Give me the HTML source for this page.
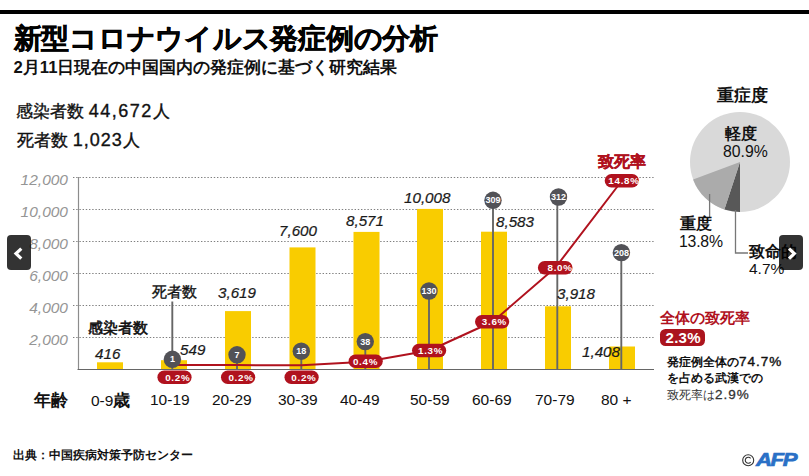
<!DOCTYPE html>
<html><head><meta charset="utf-8">
<style>
html,body{margin:0;padding:0;background:#fff;}
body{width:809px;height:476px;position:relative;overflow:hidden;font-family:"Liberation Sans",sans-serif;color:#111;}
.t{position:absolute;white-space:nowrap;line-height:1;}
.b{font-weight:bold;}
.yl{position:absolute;right:741px;font-style:italic;color:#959595;font-size:15.5px;line-height:1;white-space:nowrap;}
.v{position:absolute;font-style:italic;color:#1a1a1a;-webkit-text-stroke:0.2px #1a1a1a;font-size:15.2px;line-height:1;white-space:nowrap;}
.xl{position:absolute;font-size:15.5px;line-height:1;color:#111;white-space:nowrap;}
.nav{position:absolute;width:24px;height:35px;background:rgba(0,0,0,0.8);border-radius:4px;}
.n{font-size:18px;}
</style></head><body>
<div style="position:absolute;left:0;top:10px;width:809px;height:4px;background:#000"></div>
<div class="t b" style="left:13.5px;top:25px;font-size:27.6px;letter-spacing:-0.25px;-webkit-text-stroke:0.5px #000">新型コロナウイルス発症例の分析</div>
<div class="t b" style="left:13.5px;top:60px;font-size:16.7px;">2月11日現在の中国国内の発症例に基づく研究結果</div>
<div class="t" style="left:16px;top:102px;font-size:17px;-webkit-text-stroke:0.35px #111">感染者数 <span class="n" style="letter-spacing:1.5px">44,672</span>人</div>
<div class="t" style="left:17px;top:131px;font-size:17px;-webkit-text-stroke:0.35px #111">死者数 <span class="n" style="letter-spacing:1px">1,023</span>人</div>

<svg width="809" height="476" style="position:absolute;left:0;top:0">
 <g stroke="#808080" stroke-width="1.2" stroke-dasharray="1.4 1.8">
  <line x1="73" y1="177.5" x2="655" y2="177.5"/>
  <line x1="73" y1="209.5" x2="655" y2="209.5"/>
  <line x1="73" y1="241.5" x2="655" y2="241.5"/>
  <line x1="73" y1="273.5" x2="655" y2="273.5"/>
  <line x1="73" y1="305.5" x2="655" y2="305.5"/>
  <line x1="73" y1="337.5" x2="655" y2="337.5"/>
 </g>
 <g fill="#f9cc00">
  <rect x="97" y="362.3" width="26" height="6.7"/>
  <rect x="161" y="360.2" width="26" height="8.8"/>
  <rect x="225" y="311.1" width="26" height="57.9"/>
  <rect x="289.5" y="247.4" width="26" height="121.6"/>
  <rect x="353.5" y="231.9" width="26" height="137.1"/>
  <rect x="417" y="208.9" width="26" height="160.1"/>
  <rect x="481" y="231.7" width="26" height="137.3"/>
  <rect x="545" y="306.3" width="26" height="62.7"/>
  <rect x="609" y="346.5" width="26" height="22.5"/>
 </g>
 <line x1="78.5" y1="177" x2="78.5" y2="369" stroke="#8c8c8c" stroke-width="1.2"/>
 <line x1="77.5" y1="369.5" x2="654" y2="369.5" stroke="#666" stroke-width="1.2"/>
 <g stroke="#666" stroke-width="1.9">
  <line x1="172.3" y1="301.5" x2="172.3" y2="369"/>
  <line x1="237" y1="355" x2="237" y2="369"/>
  <line x1="301.3" y1="351" x2="301.3" y2="369"/>
  <line x1="365.3" y1="341.5" x2="365.3" y2="369"/>
  <line x1="429" y1="291" x2="429" y2="369"/>
  <line x1="493" y1="200.5" x2="493" y2="369"/>
  <line x1="557.3" y1="197" x2="557.3" y2="369"/>
  <line x1="621.3" y1="252.5" x2="621.3" y2="369"/>
 </g>
 <polyline fill="none" stroke="#b0121e" stroke-width="2" stroke-linejoin="round" points="174,365.1 237,365.1 301.5,365.3 365.5,361.8 429.5,350.5 493,321.5 555.5,267.5 622,180.5"/>
 <g fill="#525257">
  <circle cx="172.4" cy="359.3" r="8.7"/>
  <circle cx="237" cy="354.8" r="8.7"/>
  <circle cx="301.3" cy="351.2" r="8.7"/>
  <circle cx="365.3" cy="341.6" r="8.7"/>
  <circle cx="429" cy="291" r="8.7"/>
  <circle cx="493" cy="200.3" r="8.7"/>
  <circle cx="558.5" cy="197" r="8.7"/>
  <circle cx="621.4" cy="252.6" r="8.7"/>
 </g>
 <g fill="#fff" font-family="Liberation Sans" font-weight="bold" font-size="9" text-anchor="middle">
  <text x="172.4" y="362.3">1</text>
  <text x="237" y="357.8">7</text>
  <text x="301.3" y="354.2">18</text>
  <text x="365.3" y="344.6">38</text>
  <text x="429" y="294">130</text>
  <text x="493" y="203.3">309</text>
  <text x="558.5" y="200">312</text>
  <text x="621.4" y="255.6">208</text>
 </g>
 <g fill="#b0121e">
  <rect x="157.4" y="370.5" width="34.2" height="13.4" rx="6.7"/>
  <rect x="221" y="370.5" width="34.2" height="13.4" rx="6.7"/>
  <rect x="284.5" y="370.5" width="34.2" height="13.4" rx="6.7"/>
  <rect x="348.6" y="354.6" width="34.2" height="13.4" rx="6.7"/>
  <rect x="412" y="343.8" width="34.2" height="13.4" rx="6.7"/>
  <rect x="475" y="315" width="34.2" height="13.4" rx="6.7"/>
  <rect x="537.9" y="261" width="34.6" height="13.5" rx="6.7"/>
  <rect x="604.7" y="174" width="34.2" height="13.4" rx="6.7"/>
 </g>
 <g fill="#fff" font-family="Liberation Sans" font-weight="bold" font-size="9.8" letter-spacing="0.7" text-anchor="middle">
  <text x="177.8" y="380.7">0.2%</text>
  <text x="241" y="380.7">0.2%</text>
  <text x="303.9" y="380.7">0.2%</text>
  <text x="365.5" y="364.8">0.4%</text>
  <text x="430.6" y="354">1.3%</text>
  <text x="494.4" y="325.2">3.6%</text>
  <text x="560.1" y="271">8.0%</text>
  <text x="624" y="184">14.8%</text>
 </g>
 <!-- pie -->
 <circle cx="740" cy="162" r="50" fill="#d9d9d9"/>
 <path d="M740,162 L740,212 A50,50 0 0 1 724.4,209.5 Z" fill="#585858"/>
 <path d="M740,162 L724.4,209.5 A50,50 0 0 1 693.1,179.5 Z" fill="#ababab"/>
 <g stroke="#777" stroke-width="1.3" fill="none">
  <line x1="709.6" y1="194" x2="709.6" y2="218"/>
  <polyline points="735.5,210 735.5,253 748,253"/>
 </g>
</svg>

<div class="yl" style="top:172px">12,000</div>
<div class="yl" style="top:204px">10,000</div>
<div class="yl" style="top:236px">8,000</div>
<div class="yl" style="top:268px">6,000</div>
<div class="yl" style="top:300px">4,000</div>
<div class="yl" style="top:332px">2,000</div>

<div class="v" style="left:95px;top:346px">416</div>
<div class="v" style="left:180px;top:342px">549</div>
<div class="v" style="left:218px;top:285px">3,619</div>
<div class="v" style="left:279px;top:223px">7,600</div>
<div class="v" style="left:346px;top:213px">8,571</div>
<div class="v" style="left:404px;top:190px">10,008</div>
<div class="v" style="left:496px;top:214px">8,583</div>
<div class="v" style="left:557px;top:286px">3,918</div>
<div class="v" style="left:582px;top:344px">1,408</div>

<div class="t" style="left:152px;top:284px;font-size:15px;-webkit-text-stroke:0.35px #111">死者数</div>
<div class="t" style="left:87.5px;top:319.5px;font-size:15.3px;-webkit-text-stroke:0.6px #111">感染者数</div>
<div class="t b" style="left:597.5px;top:154px;font-size:16px;color:#b0121e;-webkit-text-stroke:0.3px #b0121e">致死率</div>

<div class="t b" style="left:34px;top:392px;font-size:17px;">年齢</div>
<div class="xl" style="left:91px;top:392px">0-9<span style="font-size:17px;font-weight:bold">歳</span></div>
<div class="xl" style="left:150px;top:392px">10-19</div>
<div class="xl" style="left:212px;top:392px">20-29</div>
<div class="xl" style="left:278px;top:392px">30-39</div>
<div class="xl" style="left:340px;top:392px">40-49</div>
<div class="xl" style="left:410px;top:392px">50-59</div>
<div class="xl" style="left:472px;top:392px">60-69</div>
<div class="xl" style="left:535px;top:392px">70-79</div>
<div class="xl" style="left:601px;top:392px">80 +</div>

<div class="t b" style="left:13px;top:448.5px;font-size:11.7px;">出典：中国疾病対策予防センター</div>

<div class="t b" style="left:717px;top:87px;font-size:17px;">重症度</div>
<div class="t b" style="left:725px;top:126px;font-size:16px;">軽度</div>
<div class="t" style="left:723px;top:143.5px;font-size:15.8px;">80.9%</div>
<div class="t b" style="left:680px;top:216px;font-size:16px;">重度</div>
<div class="t" style="left:679px;top:234.2px;font-size:15.8px;letter-spacing:-0.2px;">13.8%</div>
<div class="t b" style="left:749px;top:244px;font-size:16px;">致命的</div>
<div class="t" style="left:749px;top:261px;font-size:15.5px;">4.7%</div>

<div class="t b" style="left:660px;top:311px;font-size:14.5px;color:#b0121e">全体の致死率</div>
<div style="position:absolute;left:659.5px;top:328.6px;width:45.5px;height:17px;border-radius:5.5px;background:#ab141e;"></div><div class="t b" style="left:665.5px;top:330px;font-size:15px;color:#fff;letter-spacing:0.3px">2.3%</div>
<div class="t b" style="left:667px;top:355px;font-size:12.2px;">発症例全体の<span style="font-size:13.5px;font-weight:normal;letter-spacing:1px;-webkit-text-stroke:0.4px #111">74.7%</span></div>
<div class="t b" style="left:667px;top:371.5px;font-size:11.7px;">を占める武漢での</div>
<div class="t" style="left:667px;top:387.5px;font-size:12.2px;color:#333">致死率は<span style="font-size:13.5px;letter-spacing:1px;-webkit-text-stroke:0.3px #333">2.9%</span></div>

<div class="nav" style="left:7px;top:235px"></div>
<div class="nav" style="left:779px;top:235px"></div>
<svg width="809" height="476" style="position:absolute;left:0;top:0">
 <polyline points="21.3,248.6 16,253.6 21.3,258.6" fill="none" stroke="#fff" stroke-width="3.2" stroke-linejoin="miter" stroke-miterlimit="10"/>
 <polyline points="789,248.6 794.3,253.6 789,258.6" fill="none" stroke="#fff" stroke-width="3.2" stroke-linejoin="miter" stroke-miterlimit="10"/>
 <circle cx="748.2" cy="460.2" r="5.5" fill="none" stroke="#333" stroke-width="1.1"/>
 <path d="M750.6,458.3 A3,3 0 1 0 750.6,462.1" fill="none" stroke="#333" stroke-width="1.1"/>
 <text x="756" y="466" font-family="Liberation Sans" font-weight="bold" font-style="italic" font-size="18.5" fill="#2a70c6" stroke="#2a70c6" stroke-width="0.7" letter-spacing="-1.2" textLength="40" lengthAdjust="spacingAndGlyphs">AFP</text>
</svg>
</body></html>
